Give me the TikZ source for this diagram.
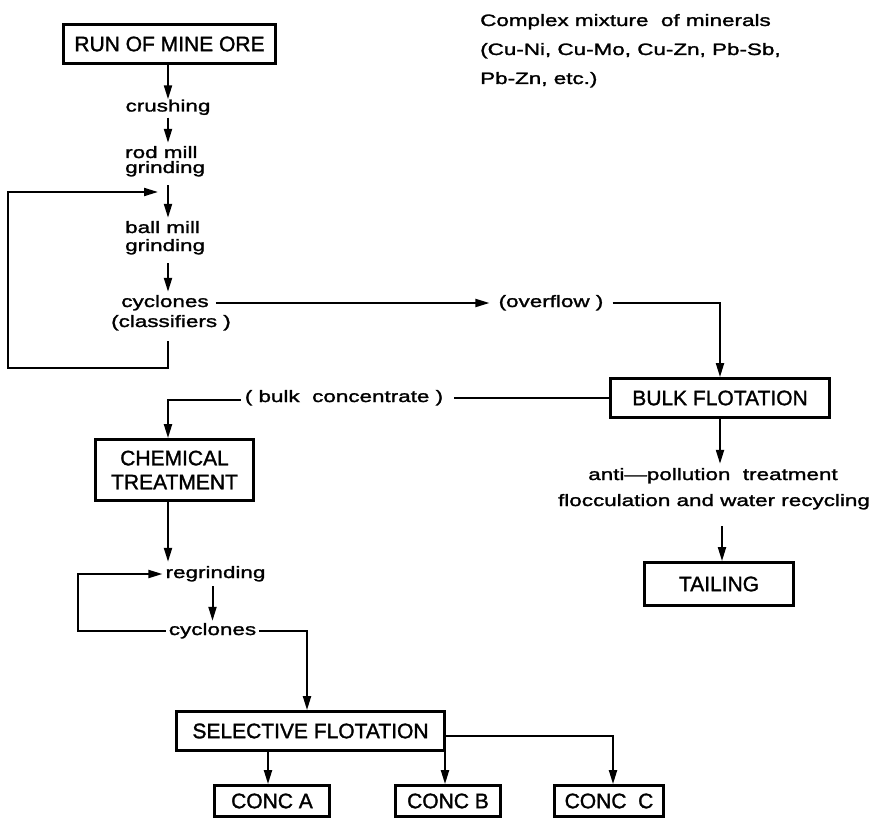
\documentclass[tikz,border=0pt]{standalone}
\usepackage{fontspec}
\setmainfont{Liberation Sans}
\newfontfamily\lowfont[FakeStretch=1.36,FakeBold=1.6]{Liberation Sans}
\newfontfamily\capfont[FakeBold=1.4]{Liberation Sans}
\usetikzlibrary{arrows.meta,calc}
\begin{document}
\begin{tikzpicture}[x=1pt,y=-1pt,
  box/.style={draw, line width=2.8pt, rectangle, inner sep=0pt, align=center,
    font=\capfont\fontsize{21}{24}\selectfont},
  lbl/.style={inner sep=0pt, text height=12pt, text depth=4pt,
    font=\lowfont\fontsize{16.5}{17}\selectfont},
  conn/.style={line width=2pt},
  arr/.style={conn, -{Triangle[length=14pt,width=8pt]}}]
\useasboundingbox (0,0) rectangle (880,821);

% note
\node[lbl, anchor=west] (note1) at (480,22) {Complex mixture \ of minerals};
\node[lbl, anchor=west] (note2) at (480,51) {(Cu-Ni, Cu-Mo, Cu-Zn, Pb-Sb,};
\node[lbl, anchor=west] (note3) at (480,80) {Pb-Zn, etc.)};

% left column
\node[box, minimum width=212pt, minimum height=39pt] (rom) at (169.5,44) {RUN OF MINE ORE};
\node[lbl] (crush) at (168,107.5) {crushing};
\node[lbl, anchor=west] (rod1) at (125,154) {rod mill};
\node[lbl, anchor=west] (rod2) at (125,169) {grinding};
\node[lbl, anchor=west] (ball1) at (125,229) {ball mill};
\node[lbl, anchor=west] (ball2) at (125,247) {grinding};
\node[lbl] (cyc) at (165,303) {cyclones};
\node[lbl] (cls) at (171,323) {(classifiers )};
\coordinate (fbtip) at (158,192);
\coordinate (lp1) at (8,368);

\node[lbl] (ovf) at (551,303) {(overflow )};
\node[box, minimum width=219pt, minimum height=39pt] (bulk) at (720,398) {BULK FLOTATION};
\node[lbl] (bc) at (344,398) {( bulk \ concentrate )};
\node[box, minimum width=158pt, minimum height=61pt] (chem) at (174.5,470) {CHEMICAL\\TREATMENT};
\node[lbl] (regr) at (215.5,574) {regrinding};
\node[lbl] (cyc2) at (212.5,631) {cyclones};
\coordinate (lp2) at (78,600);

\node[box, minimum width=268pt, minimum height=39pt] (sel) at (310.5,731) {SELECTIVE FLOTATION};
\node[box, minimum width=115pt, minimum height=31pt] (concA) at (272,801) {CONC A};
\node[box, minimum width=105pt, minimum height=31pt] (concB) at (448,801) {CONC B};
\node[box, minimum width=109pt, minimum height=31pt] (concC) at (609,801) {CONC \ C};

\node[lbl] (anti1) at (713,476) {anti—pollution \ treatment};
\node[lbl] (anti2) at (714,502) {flocculation and water recycling};
\node[box, minimum width=149pt, minimum height=43pt] (tail) at (719,584) {TAILING};

% connectors
\draw[arr] (rom.south -| crush) -- (crush.north);
\draw[arr] ($(crush.south)+(0,2)$) -- ($(crush.south |- rod1.north)+(0,-3)$);
\draw[arr] ($(crush.south |- rod2.south)+(0,8)$) -- ($(crush.south |- ball1.north)+(0,-3)$);
\draw[arr] ($(crush.south |- ball2.south)+(0,8)$) -- ($(crush.south |- cyc.north)+(0,-3)$);
\draw[arr] ($(crush.south |- cls.south)+(0,10)$) |- (lp1) |- (fbtip);
\draw[arr] ($(cyc.east)+(7,0)$) -- ($(ovf.west)+(-9,0)$);
\draw[arr] ($(ovf.east)+(9,0)$) -| (bulk.north);
\draw[conn] (bulk.west) -- ($(bc.east)+(11,0)$);
\draw[arr] ($(bc.west)+(-4,2)$) -| (chem.north -| crush.south);
\draw[arr] (chem.south -| crush.south) -- ($(crush.south |- regr.north)+(0,-4)$);
\draw[arr] ($(cyc2.west)+(-3,0)$) -| (lp2) |- ($(regr.west)+(-3,0)$);
\draw[arr] ($(regr.south -| cyc2.north)+(0,4)$) -- ($(cyc2.north)+(0,-2)$);
\draw[arr] ($(cyc2.east)+(3,0)$) -| ($(sel.north)+(-3.5,0)$);
\draw[arr] ($(concA.north |- sel.south)+(-4,0)$) -- ($(concA.north)+(-4,0)$);
\draw[arr] ($(concB.north |- sel.south)+(-3,0)$) -- ($(concB.north)+(-3,0)$);
\draw[arr] ($(sel.east)+(0,5)$) -| ($(concC.north)+(4,0)$);
\draw[arr] (bulk.south) -- ($(bulk.south |- anti1.north)+(0,-4)$);
\draw[arr] ($(anti2.south -| tail.north)+(3,16)$) -- ($(tail.north)+(3,0)$);
\end{tikzpicture}
\end{document}
